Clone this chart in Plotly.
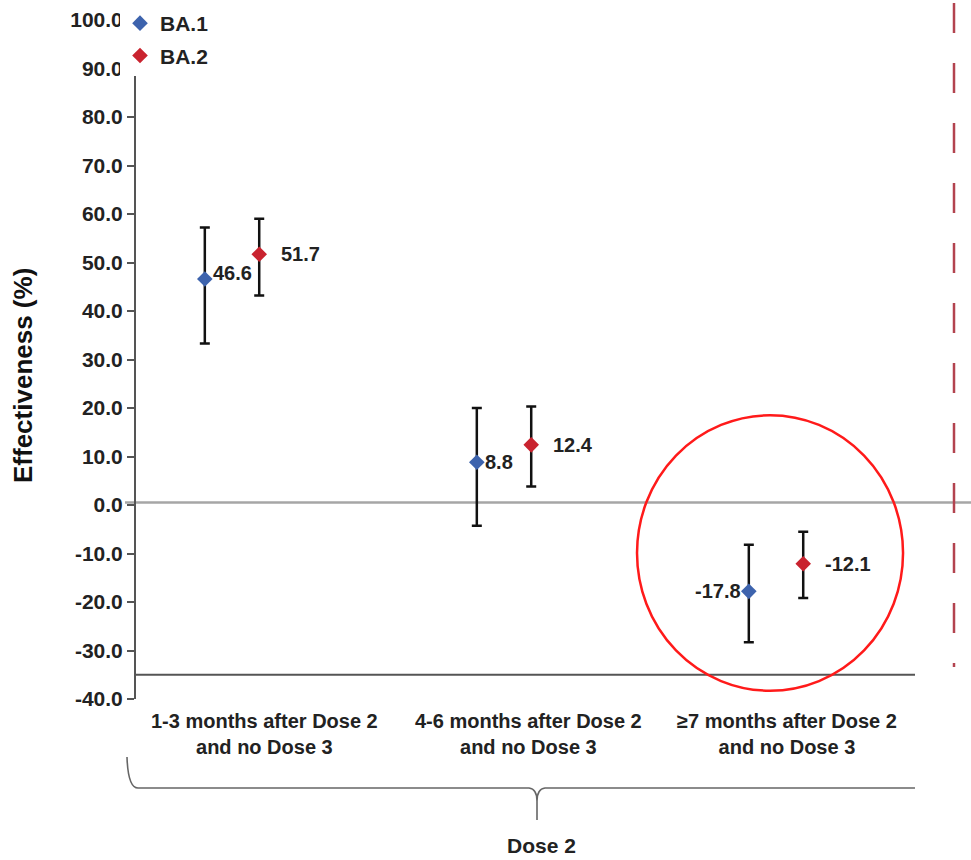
import plotly.graph_objects as go

# ---------------- data ----------------
categories = ["1-3 months after Dose 2<br>and no Dose 3",
              "4-6 months after Dose 2<br>and no Dose 3",
              "≥7 months after Dose 2<br>and no Dose 3"]
series_names = ["BA.1", "BA.2"]
ba1_values = [46.6, 8.8, -17.8]
ba1_upper = [57.2, 20.0, -8.2]
ba1_lower = [33.3, -4.3, -28.3]
ba2_values = [51.7, 12.4, -12.1]
ba2_upper = [59.0, 20.3, -5.5]
ba2_lower = [43.2, 3.8, -19.2]
y_ticks = [100, 90, 80, 70, 60, 50, 40, 30, 20, 10, 0, -10, -20, -30, -40]
group_label = "Dose 2"
y_title = "Effectiveness (%)"

# ---------------- layout geometry ----------------
W, H = 971, 860
L, R, T, B = 136, 0, 20, 161
PW, PH = W - L - R, H - T - B
FONT = "Liberation Sans, Arial, sans-serif"
BLUE = "#3d63ad"
RED = "#c9232f"
TXT = "#222222"

def px(x):
    return (x - L) / PW

def py(y):
    return (H - B - y) / PH

x_range = [-0.353, -0.353 + PW / 272.0]
offset = 0.1

fig = go.Figure()
series = [
    (series_names[0], ba1_values, ba1_upper, ba1_lower, BLUE, -offset),
    (series_names[1], ba2_values, ba2_upper, ba2_lower, RED, offset),
]
for name, vals, up, lo, col, off in series:
    xs = [i + off for i in range(len(vals))]
    fig.add_trace(go.Scatter(
        x=xs, y=vals, mode="markers", name=name, legendgroup=name,
        marker=dict(symbol="diamond", size=12, color=col),
        error_y=dict(type="data", symmetric=False,
                     array=[u - v for u, v in zip(up, vals)],
                     arrayminus=[v - l for v, l in zip(vals, lo)],
                     color="#111111", thickness=2.5, width=5),
        cliponaxis=False,
    ))

annotations = []
# value labels
for s_idx, (name, vals, up, lo, col, off) in enumerate(series):
    for i, v in enumerate(vals):
        left_side = (s_idx == 0 and v < 0)
        annotations.append(dict(
            x=i + off, y=v, xref="x", yref="y", text=f"{v:.1f}",
            showarrow=False, xanchor="right" if left_side else "left",
            xshift=(-6 if left_side else (6 if s_idx == 0 else 20)),
            yshift=(6 if (s_idx == 0 and i == 0) else 0),
            font=dict(family=FONT, size=20, color=TXT, weight="bold"),
        ))
# category labels
cat_shift = [0.12, 0.09, 0.04]
for i, c in enumerate(categories):
    annotations.append(dict(
        x=i + cat_shift[i], y=py(734), xref="x", yref="paper", text=c,
        showarrow=False, xanchor="center", yanchor="middle", align="center",
        font=dict(family=FONT, size=20, color=TXT, weight="bold"),
    ))
# group label
annotations.append(dict(
    x=px(541), y=py(845), xref="paper", yref="paper", text=group_label,
    showarrow=False, xanchor="center", yanchor="middle",
    font=dict(family=FONT, size=21, color=TXT, weight="bold"),
))
# y title
annotations.append(dict(
    x=px(23), y=py(376), xref="paper", yref="paper", text=y_title,
    showarrow=False, textangle=-90, xanchor="center", yanchor="middle",
    font=dict(family=FONT, size=26, color="#111111", weight="bold"),
))

def P(x, y):
    return f"{px(x):.5f},{py(y):.5f}"

shapes = [
    # zero reference line (grey)
    dict(type="line", xref="paper", yref="y", x0=px(125), x1=1.0, y0=0.5, y1=0.5,
         line=dict(color="#a6a6a6", width=2.5), layer="below"),
    # bottom line
    dict(type="line", xref="paper", yref="y", x0=0, x1=px(915), y0=-35, y1=-35,
         line=dict(color="#555555", width=2)),
    # red dashed vertical line
    dict(type="line", xref="paper", yref="paper", x0=px(954), x1=px(954),
         y0=py(3), y1=py(667),
         line=dict(color="#b3434f", width=2.5, dash="30px,30px")),
    # red circle
    dict(type="circle", xref="x", yref="y", x0=1.489, x1=2.467, y0=-38.3, y1=18.5,
         line=dict(color="#ff1a1a", width=2.5)),
    # bracket
    dict(type="path", xref="paper", yref="paper",
         path=(f"M{P(127,757)} Q{P(128,788)} {P(138,788)} L{P(529,788)} "
               f"Q{P(537,789)} {P(537,801)} L{P(537,820)} "
               f"M{P(537,801)} Q{P(537,789)} {P(545,788)} L{P(915,788)}"),
         line=dict(color="#666666", width=1.6)),
]

fig.update_layout(
    width=W, height=H,
    margin=dict(l=L, r=R, t=T, b=B),
    paper_bgcolor="white", plot_bgcolor="white",
    font=dict(family=FONT, size=20, color=TXT),
    showlegend=True,
    legend=dict(x=px(120), y=py(3), xanchor="left", yanchor="top",
                bgcolor="white", borderwidth=0, tracegroupgap=2,
                font=dict(family=FONT, size=21, color=TXT, weight="bold"),
                itemwidth=30),
    xaxis=dict(range=x_range, showgrid=False, zeroline=False, showline=False,
               showticklabels=False, ticks=""),
    yaxis=dict(range=[-40, 100], tickvals=y_ticks,
               ticktext=[f"{t:.1f}" for t in y_ticks],
               showgrid=False, zeroline=False, showline=True,
               linecolor="#555555", linewidth=2, ticks="outside", ticklen=7,
               tickwidth=1.5, tickcolor="#555555",
               tickfont=dict(family=FONT, size=21, color=TXT, weight="bold")),
    annotations=annotations,
    shapes=shapes,
)

fig.write_html("out.html")
